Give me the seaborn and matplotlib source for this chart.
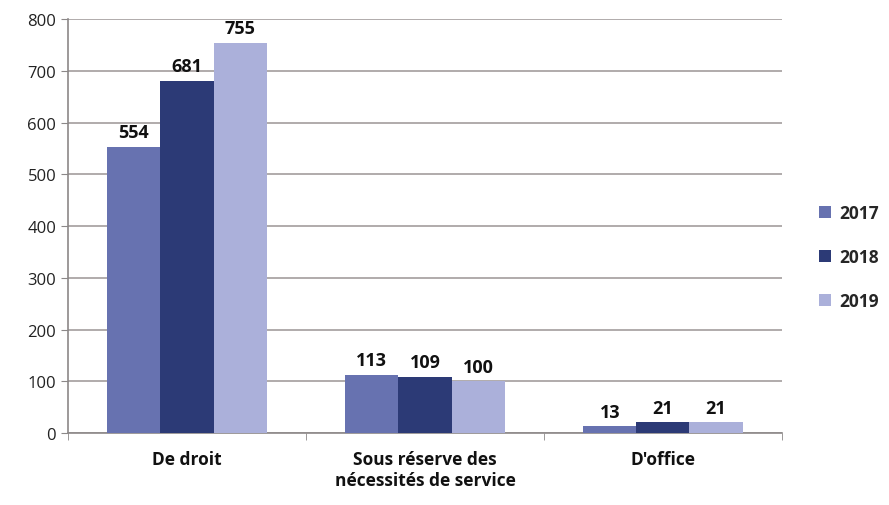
import pandas as pd
import matplotlib.pyplot as plt
import seaborn as sns
from matplotlib.ticker import FixedLocator

# Data
categories = ['De droit', 'Sous réserve des\nnécessités de service', "D'office"]
years = ['2017', '2018', '2019']
values_2017 = [554, 113, 13]
values_2018 = [681, 109, 21]
values_2019 = [755, 100, 21]

df = pd.DataFrame({
    'Catégorie': categories * 3,
    'Année': [y for y in years for _ in categories],
    'Valeur': values_2017 + values_2018 + values_2019,
})

sns.set_style('white')
plt.rcParams['font.family'] = ['Open Sans', 'DejaVu Sans']

palette = ['#6772b0', '#2c3a76', '#abb0da']

fig = plt.figure(figsize=(8.89, 5.06), dpi=100)
ax = fig.add_axes([0.0765, 0.142, 0.803, 0.818])

sns.barplot(data=df, x='Catégorie', y='Valeur', hue='Année', palette=palette,
            width=0.67, saturation=1, linewidth=0, ax=ax, zorder=3)

for cont in ax.containers:
    ax.bar_label(cont, fontsize=13, fontweight='bold', padding=4, color='#111111')

ax.set_ylim(0, 800)
ax.set_yticks(range(0, 801, 100))
ax.set_xlim(-0.5, 2.5)
ax.yaxis.grid(True, color='#a39d9d', linewidth=1.2, zorder=0)
ax.set_axisbelow(True)

for side in ['top', 'right']:
    ax.spines[side].set_visible(False)
for side in ['left', 'bottom']:
    ax.spines[side].set_color('#8c8888')
    ax.spines[side].set_linewidth(1.2)

ax.tick_params(axis='y', which='major', left=True, length=5, color='#8c8888',
               labelsize=12, labelcolor='#222222')
ax.tick_params(axis='x', which='major', length=0, labelsize=12.5, pad=12)
ax.xaxis.set_minor_locator(FixedLocator([-0.5, 0.5, 1.5, 2.5]))
ax.tick_params(axis='x', which='minor', bottom=True, length=5, color='#8c8888')
for lbl in ax.get_xticklabels():
    lbl.set_fontweight('bold')
    lbl.set_color('#111111')

ax.set_xlabel('')
ax.set_ylabel('')

leg = ax.legend(loc='center left', bbox_to_anchor=(1.03, 0.425), frameon=False,
                handlelength=0.7, handleheight=0.7, labelspacing=1.5,
                handletextpad=0.5, fontsize=12.5)
for t in leg.get_texts():
    t.set_fontweight('bold')

plt.savefig('out.png', dpi=100)
